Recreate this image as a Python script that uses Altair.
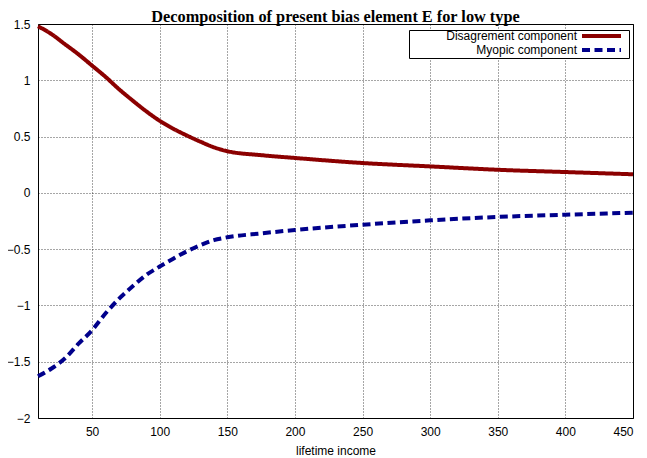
import altair as alt
import pandas as pd

income = [10, 20, 30, 40, 50, 60, 70, 80, 90, 100, 110, 120, 130, 140, 150,
          175, 200, 250, 300, 350, 400, 450]
disagreement = [1.48, 1.41, 1.32, 1.23, 1.13, 1.03, 0.92, 0.82, 0.725, 0.64, 0.57,
                0.51, 0.455, 0.405, 0.37, 0.335, 0.31, 0.265, 0.235, 0.205, 0.185, 0.165]
myopic = [-1.63, -1.56, -1.47, -1.34, -1.22, -1.07, -0.94, -0.83, -0.73, -0.655, -0.585,
          -0.52, -0.465, -0.42, -0.395, -0.36, -0.33, -0.283, -0.244, -0.214, -0.194, -0.176]
series_names = ["Disagrement component", "Myopic component"]
series_colors = ["#8b0000", "#00008b"]
x_ticks = [50, 100, 150, 200, 250, 300, 350, 400, 450]
y_ticks = [-2, -1.5, -1, -0.5, 0, 0.5, 1, 1.5]

n = len(income)
df = pd.DataFrame({
    "income": income * 2,
    "value": disagreement + myopic,
    "series": [series_names[0]] * n + [series_names[1]] * n,
    "order": list(range(n)) * 2,
})

legend = alt.Legend(
    title=None,
    orient="none",
    legendX=371,
    legendY=6,
    strokeColor="black",
    fillColor="white",
    padding=0,
    cornerRadius=0,
    labelFont="Liberation Sans",
    labelFontSize=12,
    labelColor="black",
    labelAlign="right",
    labelOffset=156,
    labelLimit=200,
    symbolType="M41.75,0H51.5",
    symbolSize=64,
    symbolStrokeWidth=4,
    rowPadding=-4,
)

chart = alt.Chart(df).mark_line(strokeWidth=4, interpolate="monotone", strokeJoin="round").encode(
    x=alt.X("income:Q",
            scale=alt.Scale(domain=[10, 450], nice=False, zero=False),
            axis=alt.Axis(values=x_ticks, title="lifetime income", format="d")),
    y=alt.Y("value:Q",
            scale=alt.Scale(domain=[-2, 1.5], nice=False, zero=False),
            axis=alt.Axis(values=y_ticks, title=None, format="~f")),
    color=alt.Color("series:N",
                    scale=alt.Scale(domain=series_names, range=series_colors),
                    legend=legend),
    strokeDash=alt.StrokeDash("series:N",
                              scale=alt.Scale(domain=series_names, range=[[1, 0], [8, 4.5]]),
                              legend=legend),
    order="order:Q",
).properties(
    width=595,
    height=394,
    title=alt.TitleParams(
        "Decomposition of present bias element E for low type",
        font="Liberation Serif", fontSize=16.3, fontWeight="bold", color="black",
        anchor="middle", offset=-7.5,
    ),
    padding={"left": 30, "top": 16, "right": 6, "bottom": 40},
    autosize=alt.AutoSizeParams(type="none"),
).configure_view(
    stroke="black", strokeWidth=1,
).configure_axis(
    labelFont="Liberation Sans", labelFontSize=12, labelColor="black",
    titleFont="Liberation Sans", titleFontSize=12, titleColor="black", titleFontWeight="normal",
    grid=True, gridColor="black", gridDash=[1, 2], gridWidth=1, gridOpacity=0.7,
    domain=False, ticks=False, labelPadding=8,
).configure_axisX(
    titlePadding=8,
)

chart.save("out.html", embed_options={"renderer": "svg", "actions": False})
